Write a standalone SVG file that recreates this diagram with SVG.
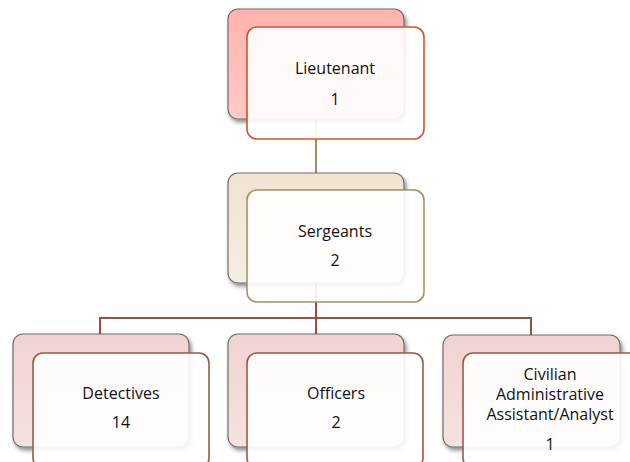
<svg xmlns="http://www.w3.org/2000/svg" width="630" height="462" viewBox="0 0 630 462">
<defs>
<linearGradient id="gRed" x1="0" y1="0" x2="0" y2="1"><stop offset="0" stop-color="#ffb3ae"/><stop offset="1" stop-color="#ffc9c4"/></linearGradient>
<linearGradient id="gTan" x1="0" y1="0" x2="0" y2="1"><stop offset="0" stop-color="#efe4d0"/><stop offset="1" stop-color="#f5ede2"/></linearGradient>
<linearGradient id="gPink" x1="0" y1="0" x2="0" y2="1"><stop offset="0" stop-color="#f0d3d0"/><stop offset="1" stop-color="#f6e1df"/></linearGradient>
<filter id="sh" x="-10%" y="-10%" width="125%" height="130%"><feDropShadow dx="2" dy="3" stdDeviation="2" flood-color="#000" flood-opacity="0.45"/></filter>
</defs>
<style>
.back{stroke:#6e6e6e;stroke-width:1.2;filter:url(#sh)}
.front{fill:#ffffff;fill-opacity:0.9;stroke-width:1.6}
.t{font-family:"Open Sans","Liberation Sans",sans-serif;font-size:16px;fill:#111;text-anchor:middle}
.c1{stroke:#a08a5f;stroke-width:2;fill:none}
.c2{stroke:#9a5040;stroke-width:2;fill:none}
</style>
<rect width="630" height="462" fill="#ffffff"/>
<g id="connectors">
<path class="c1" d="M316 120 V190"/>
<path class="c2" d="M316 283 V318"/>
<path class="c2" d="M100 334 V318 H531 V335"/>
<path class="c2" d="M316 318 V334"/>
</g>
<g id="lieutenant">
<rect class="back" x="228" y="9" width="176" height="110" rx="10" fill="url(#gRed)"/>
<rect class="front" x="247" y="27" width="177" height="112" rx="10" stroke="#d2542a"/>
<text class="t" x="335" y="74">Lieutenant</text>
<text class="t" x="335" y="105">1</text>
</g>
<g id="sergeants">
<rect class="back" x="228" y="173" width="176" height="110" rx="10" fill="url(#gTan)"/>
<rect class="front" x="247" y="190" width="177" height="112" rx="10" stroke="#a8905e"/>
<text class="t" x="335" y="237">Sergeants</text>
<text class="t" x="335" y="266">2</text>
</g>
<g id="detectives">
<rect class="back" x="13" y="334" width="176" height="113" rx="10" fill="url(#gPink)"/>
<rect class="front" x="33" y="353" width="176" height="115" rx="10" stroke="#9a5a48"/>
<text class="t" x="121" y="399">Detectives</text>
<text class="t" x="121" y="428">14</text>
</g>
<g id="officers">
<rect class="back" x="228" y="334" width="176" height="113" rx="10" fill="url(#gPink)"/>
<rect class="front" x="247" y="353" width="176" height="115" rx="10" stroke="#9a5a48"/>
<text class="t" x="336" y="399">Officers</text>
<text class="t" x="336" y="428">2</text>
</g>
<g id="civilian">
<rect class="back" x="443" y="335" width="177" height="112" rx="10" fill="url(#gPink)"/>
<rect class="front" x="463" y="353" width="180" height="115" rx="10" stroke="#9a5a48"/>
<text class="t" x="550" y="380">Civilian</text>
<text class="t" x="550" y="400">Administrative</text>
<text class="t" x="550" y="420">Assistant/Analyst</text>
<text class="t" x="550" y="450">1</text>
</g>
</svg>
